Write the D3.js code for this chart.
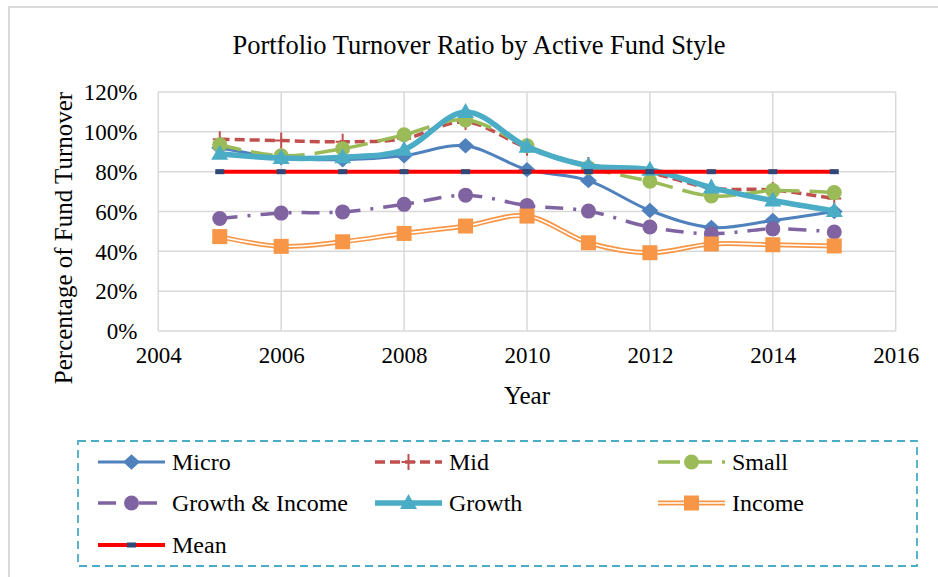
<!DOCTYPE html>
<html lang="en">
  <head>
    <meta charset="UTF-8" />
    <title>Portfolio Turnover Ratio by Active Fund Style</title>
    <script src="https://d3js.org/d3.v7.min.js"></script>
    <style>
      body { margin: 0; background: #fff; }
      text { font-family: "Liberation Serif", "Times New Roman", serif; fill: #000; }
    </style>
  </head>
  <body>
    <svg width="938" height="577"></svg>

    <script>
      var years = [2005, 2006, 2007, 2008, 2009, 2010, 2011, 2012, 2013, 2014, 2015];
      var micro = [0.92, 0.87, 0.86, 0.88, 0.93, 0.81, 0.755, 0.605, 0.52, 0.555, 0.6];
      var mid = [0.963, 0.956, 0.95, 0.965, 1.05, 0.92, 0.834, 0.794, 0.718, 0.708, 0.665];
      var small = [0.935, 0.88, 0.915, 0.985, 1.06, 0.93, 0.82, 0.752, 0.678, 0.705, 0.695];
      var growthIncome = [0.565, 0.592, 0.598, 0.636, 0.682, 0.63, 0.602, 0.522, 0.488, 0.513, 0.497];
      var growth = [0.89, 0.868, 0.873, 0.91, 1.1, 0.925, 0.83, 0.81, 0.72, 0.655, 0.603];
      var income = [0.474, 0.425, 0.448, 0.49, 0.527, 0.577, 0.443, 0.393, 0.437, 0.433, 0.427];
      var mean = [0.8, 0.8, 0.8, 0.8, 0.8, 0.8, 0.8, 0.8, 0.8, 0.8, 0.8];

      var xTicks = [2004, 2006, 2008, 2010, 2012, 2014, 2016];
      var yTicks = [0, 0.2, 0.4, 0.6, 0.8, 1.0, 1.2];

      // series styling (drawing order follows Excel's)
      var series = [
        { name: "Micro", values: micro, color: "#4f81bd", width: 3, dash: null, marker: "diamond" },
        { name: "Mid", values: mid, color: "#c0504d", width: 3.5, dash: "10,5", marker: "plus" },
        { name: "Small", values: small, color: "#9bbb59", width: 3.5, dash: "22,10", marker: "circle" },
        { name: "Growth & Income", values: growthIncome, color: "#8064a2", width: 3.5, dash: "18,10,3,10", marker: "circle" },
        { name: "Growth", values: growth, color: "#4bacc6", width: 5.5, dash: null, marker: "triangle" },
        { name: "Income", values: income, color: "#f79646", width: 5, dash: null, marker: "square", double: true },
        { name: "Mean", values: mean, color: "#ff0000", width: 4, dash: null, marker: "bar" }
      ];

      var svg = d3.select("svg");

      // outer chart border
      svg.append("rect")
        .attr("x", 9).attr("y", 7)
        .attr("width", 960).attr("height", 600)
        .attr("fill", "none")
        .attr("stroke", "#d9d9d9")
        .attr("stroke-width", 2);

      var x = d3.scaleLinear().domain([2004, 2016]).range([158.3, 895.7]);
      var y = d3.scaleLinear().domain([0, 1.2]).range([331, 92]);

      // gridlines
      svg.append("g")
        .selectAll("line.h")
        .data(yTicks)
        .enter()
        .append("line")
        .attr("x1", x(2004)).attr("x2", x(2016))
        .attr("y1", function (d) { return y(d); })
        .attr("y2", function (d) { return y(d); })
        .attr("stroke", "#d9d9d9")
        .attr("stroke-width", 1.5);

      svg.append("g")
        .selectAll("line.v")
        .data(xTicks)
        .enter()
        .append("line")
        .attr("y1", y(0)).attr("y2", y(1.2))
        .attr("x1", function (d) { return x(d); })
        .attr("x2", function (d) { return x(d); })
        .attr("stroke", "#d9d9d9")
        .attr("stroke-width", 1.5);

      // axes (labels only, lines come from the grid)
      var yAxis = svg.append("g")
        .attr("transform", "translate(" + (x(2004) - 21) + ",0)")
        .call(d3.axisLeft(y).tickValues(yTicks).tickFormat(d3.format(".0%")).tickSize(0).tickPadding(0));
      yAxis.select(".domain").remove();
      yAxis.attr("font-family", null);
      yAxis.selectAll("text").style("font-size", "23px").attr("dy", "0.34em");

      var xAxis = svg.append("g")
        .attr("transform", "translate(0," + (y(0) + 16) + ")")
        .call(d3.axisBottom(x).tickValues(xTicks).tickFormat(d3.format("d")).tickSize(0).tickPadding(0));
      xAxis.select(".domain").remove();
      xAxis.attr("font-family", null);
      xAxis.selectAll("text").style("font-size", "23px");

      // titles
      svg.append("text")
        .attr("x", 479).attr("y", 54)
        .attr("text-anchor", "middle")
        .style("font-size", "26.5px")
        .text("Portfolio Turnover Ratio by Active Fund Style");

      svg.append("text")
        .attr("x", 527).attr("y", 404)
        .attr("text-anchor", "middle")
        .style("font-size", "25px")
        .text("Year");

      svg.append("text")
        .attr("transform", "translate(72,238) rotate(-90)")
        .attr("text-anchor", "middle")
        .style("font-size", "25px")
        .text("Percentage of Fund Turnover");

      var line = d3.line()
        .x(function (d, i) { return x(years[i]); })
        .y(function (d) { return y(d); })
        .curve(d3.curveCardinal.tension(0));

      function drawMarker(g, type, color, cx, cy) {
        if (type === "diamond") {
          g.append("path")
            .attr("d", d3.symbol().type(d3.symbolDiamond2).size(150)())
            .attr("transform", "translate(" + cx + "," + cy + ") scale(1.1,1)")
            .attr("fill", color);
        } else if (type === "plus") {
          g.append("path")
            .attr("d", "M-7,0H7M0,-8V8")
            .attr("transform", "translate(" + cx + "," + cy + ")")
            .attr("stroke", color).attr("stroke-width", 2).attr("fill", "none");
        } else if (type === "circle") {
          g.append("circle")
            .attr("cx", cx).attr("cy", cy).attr("r", 7.5)
            .attr("fill", color);
        } else if (type === "triangle") {
          g.append("path")
            .attr("d", "M0,-9L8.5,6L-8.5,6Z")
            .attr("transform", "translate(" + cx + "," + cy + ")")
            .attr("fill", color);
        } else if (type === "square") {
          g.append("rect")
            .attr("x", cx - 7.5).attr("y", cy - 7.5)
            .attr("width", 15).attr("height", 15)
            .attr("fill", color);
        } else if (type === "bar") {
          g.append("rect")
            .attr("x", cx - 4.5).attr("y", cy - 2.5)
            .attr("width", 9).attr("height", 5)
            .attr("fill", "#2f4878");
        }
      }

      function drawLine(g, s, d) {
        var p = g.append("path")
          .attr("d", d)
          .attr("fill", "none")
          .attr("stroke", s.color)
          .attr("stroke-width", s.width)
          .attr("stroke-linejoin", "round");
        if (s.dash) p.attr("stroke-dasharray", s.dash);
        if (s.double) {
          g.append("path")
            .attr("d", d)
            .attr("fill", "none")
            .attr("stroke", "#fff")
            .attr("stroke-width", 1.6);
        }
      }

      series.forEach(function (s) {
        var g = svg.append("g");
        drawLine(g, s, line(s.values));
        s.values.forEach(function (v, i) {
          drawMarker(g, s.marker, s.color, x(years[i]), y(v));
        });
      });

      // legend
      svg.append("rect")
        .attr("x", 78).attr("y", 441)
        .attr("width", 839).attr("height", 125)
        .attr("fill", "none")
        .attr("stroke", "#4bacc6")
        .attr("stroke-width", 1.8)
        .attr("stroke-dasharray", "8,5");

      var legCols = [98, 375, 658];
      var legRows = [462, 503, 545];

      series.forEach(function (s, i) {
        var lx = legCols[i % 3];
        var ly = legRows[Math.floor(i / 3)];
        var g = svg.append("g");
        drawLine(g, s, "M" + lx + "," + ly + "H" + (lx + 67));
        drawMarker(g, s.marker, s.color, lx + 33.5, ly);
        g.append("text")
          .attr("x", lx + 74).attr("y", ly + 8)
          .style("font-size", "24px")
          .text(s.name);
      });
    </script>
  </body>
</html>
